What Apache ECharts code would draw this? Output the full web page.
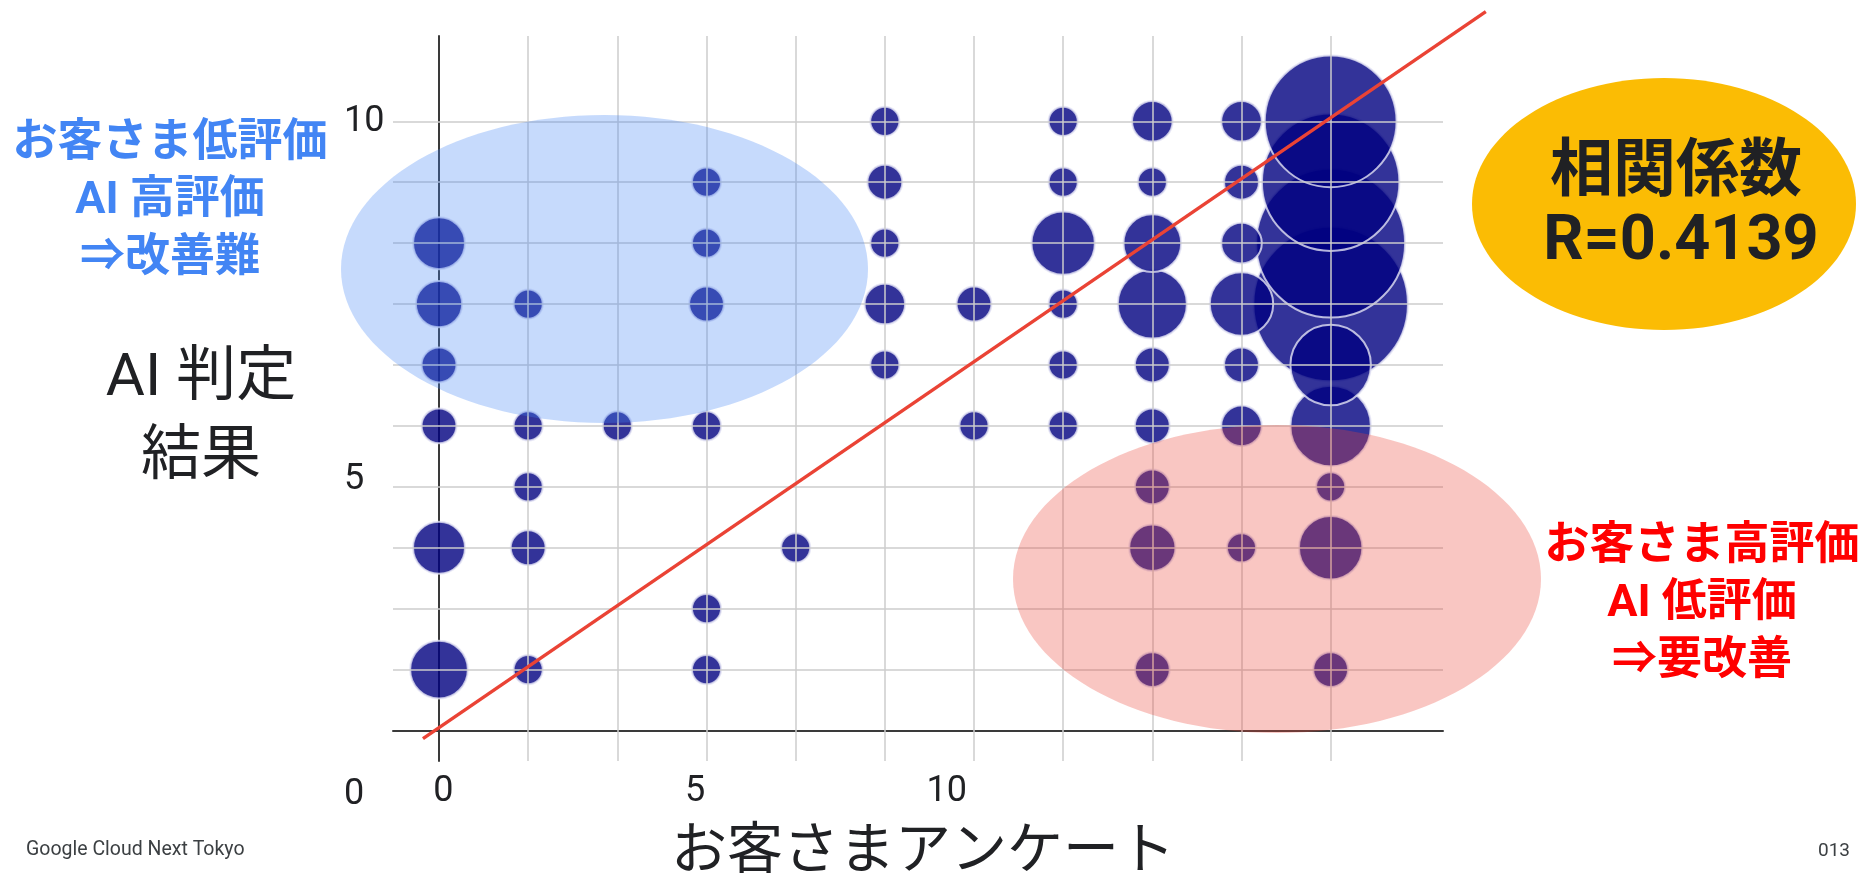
<!DOCTYPE html>
<html>
<head>
<meta charset="utf-8">
<script src="https://cdn.jsdelivr.net/npm/echarts@6/dist/echarts.min.js"></script>
<style>
  html, body { margin: 0; padding: 0; background: #ffffff; }
  #chart { width: 1864px; height: 880px; }
</style>
</head>
<body>
<div id="chart"></div>
<script>
// Each bubble: customer survey score, AI judgement score, number of responses with that pair
const surveyScore = [
  0, 0, 0, 0, 0, 0,
  1, 1, 1, 1, 1,
  2,
  3, 3, 3, 3, 3, 3,
  4,
  5, 5, 5, 5, 5,
  6, 6,
  7, 7, 7, 7, 7, 7,
  8, 8, 8, 8, 8, 8, 8, 8, 8,
  9, 9, 9, 9, 9, 9, 9,
  10, 10, 10, 10, 10, 10, 10, 10, 10
];
const aiScore = [
  8, 7, 6, 5, 3, 1,
  7, 5, 4, 3, 1,
  5,
  9, 8, 7, 5, 2, 1,
  3,
  10, 9, 8, 7, 6,
  7, 5,
  10, 9, 8, 7, 6, 5,
  10, 9, 8, 7, 6, 5, 4, 3, 1,
  10, 9, 8, 7, 6, 5, 3,
  10, 9, 8, 7, 6, 5, 4, 3, 1
];
const responseCount = [
  5, 4, 2, 2, 5, 6,
  1, 1, 1, 2, 1,
  1,
  1, 1, 2, 1, 1, 1,
  1,
  1, 2, 1, 3, 1,
  2, 1,
  1, 1, 7, 1, 1, 1,
  3, 1, 6, 8, 2, 2, 2, 4, 2,
  3, 2, 3, 7, 2, 3, 1,
  19, 20, 22, 23, 10, 10, 1, 7, 2
];

// Diagonal reference line end points (survey, AI)
const diagonalSurvey = [-0.18, 11.74];
const diagonalAI = [-0.1, 11.8];

// Grid rows / columns
const gridColumns = [1, 2, 3, 4, 5, 6, 7, 8, 9, 10];
const gridRows = [1, 2, 3, 4, 5, 6, 7, 8, 9, 10];

// Tick labels
const xTickValues = [0, 5, 10];
const yTickLabels = ['10', '5', '0'];

// Text on the slide
const xTitle = 'お客さまアンケート';
const yTitle = 'AI 判定\n結果';
const noteLowHigh = 'お客さま低評価\nAI 高評価\n⇒改善難';
const noteHighLow = 'お客さま高評価\nAI 低評価\n⇒要改善';
const corrTitle = '相関係数';
const corrValue = 'R=0.4139';
const footerLeft = 'Google Cloud Next Tokyo';
const footerRight = '013';

const LATIN = 'Roboto, "Noto Sans CJK JP", sans-serif';
const CJK = '"Noto Sans CJK JP", Roboto, sans-serif';

// Plot area (px) and its value ranges
const plot = { left: 393, right: 1443, top: 36, bottom: 763 };
const xRange = [-0.516, 11.26];
const yRange = [-0.5, 11.4];
const W = 1864, H = 880;

// The diagonal runs past the plot area, so it sits on a larger overlay grid
// that shares the same pixel scale.
const overlay = { left: plot.left, right: 1500, top: 0, bottom: plot.bottom };
const pxPerX = (plot.right - plot.left) / (xRange[1] - xRange[0]);
const pxPerY = (plot.bottom - plot.top) / (yRange[1] - yRange[0]);
const overlayXMax = xRange[0] + (overlay.right - overlay.left) / pxPerX;
const overlayYMax = yRange[0] + (overlay.bottom - overlay.top) / pxPerY;

// Bubble radius grows linearly with the response count
function bubbleDiameter(count) {
  return 2 * (14.6 + 2.85 * (count - 1));
}

// Larger bubbles first so the smaller ones stay visible on top
const bubbles = surveyScore.map((x, i) => [x, aiScore[i], responseCount[i]])
  .sort((a, b) => (b[2] - a[2]) || (a[1] - b[1]));

const chart = echarts.init(document.getElementById('chart'), null, { renderer: 'canvas' });

const yLabelPos = [122, 480, 795];

const hiddenAxis = {
  axisLine: { show: false }, axisTick: { show: false },
  axisLabel: { show: false }, splitLine: { show: false }
};

const option = {
  backgroundColor: '#ffffff',
  animation: false,
  grid: [
    { left: plot.left, right: W - plot.right, top: plot.top, bottom: H - plot.bottom },
    { left: overlay.left, right: W - overlay.right, top: overlay.top, bottom: H - overlay.bottom }
  ],
  xAxis: [
    {
      type: 'value',
      gridIndex: 0,
      min: xRange[0],
      max: xRange[1],
      axisLine: { show: true, onZero: true, lineStyle: { color: '#3a3a3a', width: 2 } },
      axisTick: { show: false },
      axisLabel: { show: false },
      splitLine: { show: false }
    },
    {
      type: 'value',
      gridIndex: 0,
      position: 'bottom',
      min: -1,
      max: 19.86,
      axisLine: { show: false, onZero: false },
      axisTick: { show: false },
      splitLine: { show: false },
      axisLabel: {
        customValues: xTickValues,
        formatter: v => (xTickValues.indexOf(v) >= 0 ? String(v) : ''),
        fontSize: 36,
        fontFamily: LATIN,
        color: '#202124',
        margin: 13
      },
      name: xTitle,
      nameLocation: 'middle',
      nameGap: 58,
      nameTextStyle: {
        fontSize: 56,
        fontFamily: CJK,
        color: '#202124',
        padding: [0, 0, 0, 10]
      }
    },
    Object.assign({ type: 'value', gridIndex: 1, min: xRange[0], max: overlayXMax, show: false }, hiddenAxis)
  ],
  yAxis: [
    {
      type: 'value',
      gridIndex: 0,
      min: yRange[0],
      max: yRange[1],
      axisLine: { show: true, onZero: true, lineStyle: { color: '#3a3a3a', width: 2 } },
      axisTick: { show: false },
      axisLabel: { show: false },
      splitLine: { show: false }
    },
    Object.assign({ type: 'value', gridIndex: 1, min: yRange[0], max: overlayYMax, show: false }, hiddenAxis)
  ],
  series: [
    {
      name: 'grid',
      type: 'scatter',
      xAxisIndex: 0,
      yAxisIndex: 0,
      data: [],
      z: 1,
      silent: true,
      markLine: {
        silent: true,
        symbol: ['none', 'none'],
        label: { show: false },
        lineStyle: { color: '#cdcdcd', width: 1.5, type: 'solid' },
        emphasis: { disabled: true },
        data: gridColumns.map(v => ({ xAxis: v })).concat(gridRows.map(v => ({ yAxis: v })))
      }
    },
    {
      name: 'responses',
      type: 'scatter',
      xAxisIndex: 0,
      yAxisIndex: 0,
      data: bubbles,
      z: 3,
      symbolSize: d => bubbleDiameter(d[2]),
      itemStyle: {
        color: '#000080',
        opacity: 0.8,
        borderColor: '#e2e2f4',
        borderWidth: 2
      },
      silent: true
    },
    {
      name: 'diagonal',
      type: 'line',
      xAxisIndex: 2,
      yAxisIndex: 1,
      data: diagonalSurvey.map((x, i) => [x, diagonalAI[i]]),
      symbol: 'none',
      clip: false,
      z: 6,
      silent: true,
      lineStyle: { color: '#ea4335', width: 3.4 }
    }
  ],
  graphic: [
    // highlight areas
    {
      type: 'ellipse', z: 10, silent: true,
      shape: { cx: 604.5, cy: 269, rx: 263.5, ry: 154 },
      style: { fill: 'rgba(66,133,244,0.3)' }
    },
    {
      type: 'ellipse', z: 10, silent: true,
      shape: { cx: 1277, cy: 579, rx: 264, ry: 154 },
      style: { fill: 'rgba(234,67,53,0.3)' }
    },
    {
      type: 'ellipse', z: 10, silent: true,
      shape: { cx: 1664, cy: 204, rx: 192, ry: 126 },
      style: { fill: '#fbbc04' }
    },
    // y tick labels
    ...yTickLabels.map((t, i) => ({
      type: 'text', z: 12, silent: true, x: 344, y: yLabelPos[i],
      style: { text: t, fontSize: 36, fontFamily: LATIN, fill: '#202124', align: 'left', verticalAlign: 'middle' }
    })),
    // axis title on the left
    {
      type: 'text', z: 12, silent: true, x: 201, y: 419,
      style: { text: yTitle, fontSize: 60, lineHeight: 79, fontFamily: LATIN, fill: '#202124', align: 'center', verticalAlign: 'middle' }
    },
    // annotations
    {
      type: 'text', z: 12, silent: true, x: 170, y: 202,
      style: { text: noteLowHigh, fontSize: 45, fontWeight: 'bold', lineHeight: 57.5, fontFamily: LATIN, fill: '#4285f4', align: 'center', verticalAlign: 'middle' }
    },
    {
      type: 'text', z: 12, silent: true, x: 1702, y: 605,
      style: { text: noteHighLow, fontSize: 45, fontWeight: 'bold', lineHeight: 57.5, fontFamily: LATIN, fill: '#ff0000', align: 'center', verticalAlign: 'middle' }
    },
    {
      type: 'text', z: 12, silent: true, x: 1676, y: 166,
      style: { text: corrTitle, fontSize: 63, fontWeight: 'bold', fontFamily: CJK, fill: '#202124', align: 'center', verticalAlign: 'middle' }
    },
    {
      type: 'text', z: 12, silent: true, x: 1681, y: 243,
      style: { text: corrValue, fontSize: 63, fontWeight: 'bold', fontFamily: LATIN, fill: '#202124', align: 'center', verticalAlign: 'middle' }
    },
    // footer
    {
      type: 'text', z: 12, silent: true, x: 26, y: 850,
      style: { text: footerLeft, fontSize: 19.5, fontFamily: LATIN, fill: '#3c4043', align: 'left', verticalAlign: 'middle' }
    },
    {
      type: 'text', z: 12, silent: true, x: 1850, y: 851,
      style: { text: footerRight, fontSize: 19, fontFamily: LATIN, fill: '#3c4043', align: 'right', verticalAlign: 'middle' }
    }
  ]
};

chart.setOption(option);
</script>
</body>
</html>
